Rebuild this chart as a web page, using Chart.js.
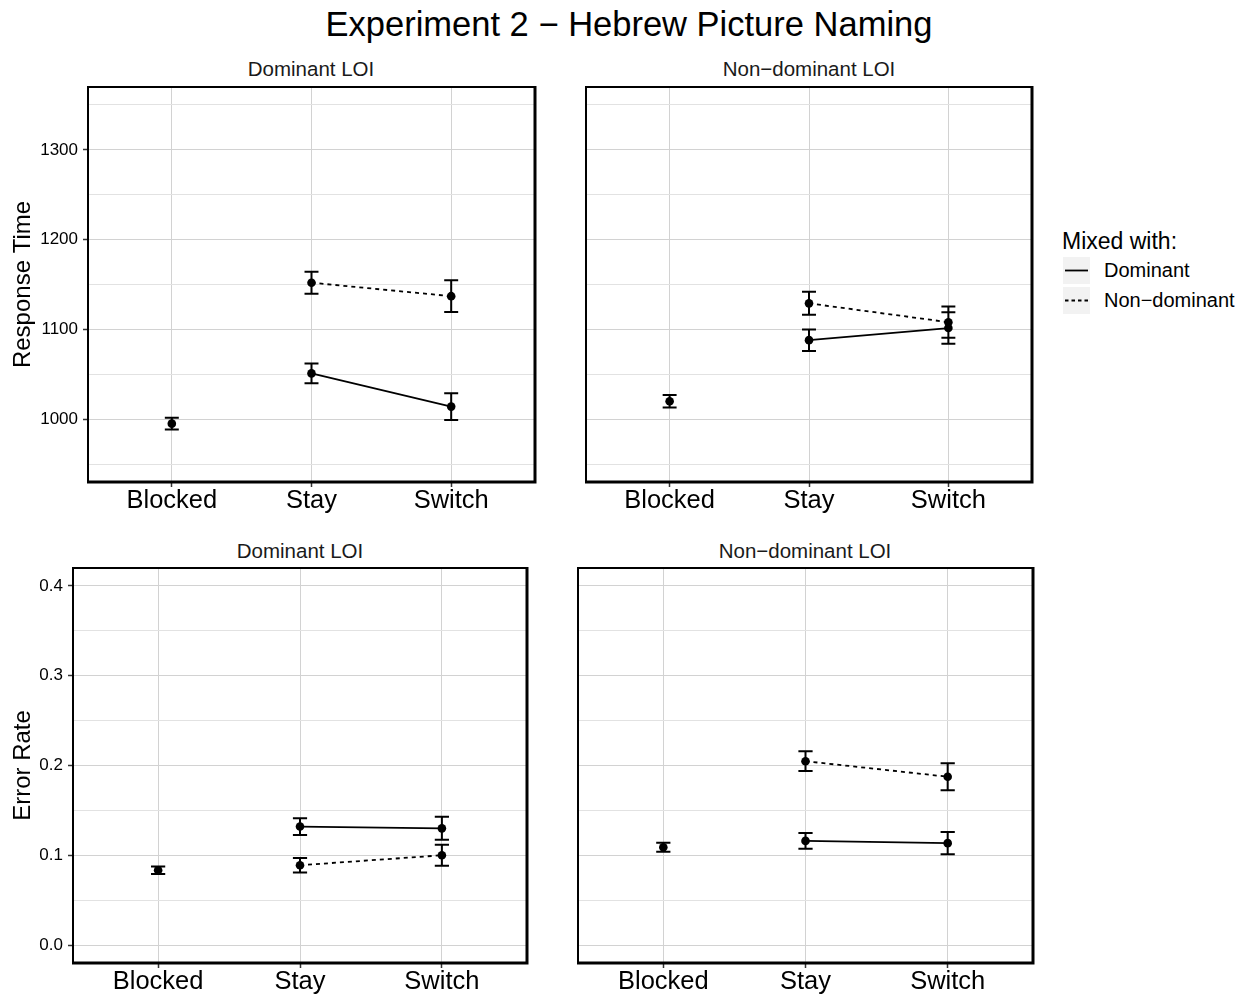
<!DOCTYPE html>
<html><head><meta charset="utf-8">
<script src="https://cdn.jsdelivr.net/npm/chart.js@4/dist/chart.umd.min.js"></script>
<style>
body{margin:0;background:#fff;width:1250px;height:997px;position:relative;overflow:hidden;font-family:"Liberation Sans",Arial,Helvetica,sans-serif;}
canvas{position:absolute;}
.t{position:absolute;white-space:nowrap;color:#000;}
.strip{font-size:20.5px;line-height:20.5px;color:#1a1a1a;text-align:center;width:400px;}
.key{position:absolute;left:1063px;width:27px;height:27px;background:#f2f2f2;}
.lab{position:absolute;left:1104px;font-size:20px;line-height:27px;}
</style></head><body>
<div class="t" style="left:0;width:1258px;text-align:center;top:7px;font-size:34.5px;line-height:34.5px;">Experiment 2 − Hebrew Picture Naming</div>
<div class="t strip" style="left:111px;top:59px;">Dominant LOI</div>
<div class="t strip" style="left:609px;top:59px;">Non−dominant LOI</div>
<div class="t strip" style="left:100px;top:541px;">Dominant LOI</div>
<div class="t strip" style="left:605px;top:541px;">Non−dominant LOI</div>

<div class="t" style="left:1062px;top:230px;font-size:23px;line-height:23px;">Mixed with:</div>
<div class="key" style="top:257px;"><svg width="27" height="27"><line x1="2" y1="13.5" x2="25" y2="13.5" stroke="#000" stroke-width="1.8"/></svg></div>
<div class="key" style="top:287px;"><svg width="27" height="27"><line x1="2" y1="13.5" x2="25" y2="13.5" stroke="#000" stroke-width="1.8" stroke-dasharray="3.5,3"/></svg></div>
<div class="t lab" style="top:257px;">Dominant</div>
<div class="t lab" style="top:287px;">Non−dominant</div>

<canvas id="c1"></canvas><canvas id="c2"></canvas><canvas id="c3"></canvas><canvas id="c4"></canvas>
<script>
// ---------- data ----------
const categories = ['Blocked', 'Stay', 'Switch'];
const mixedCategories = ['Stay', 'Switch'];

const rtGridTicks = [950, 1000, 1050, 1100, 1150, 1200, 1250, 1300, 1350];
const rtLabelTicks = [1000, 1100, 1200, 1300];
const erGridTicks = [0, 0.05, 0.1, 0.15, 0.2, 0.25, 0.3, 0.35, 0.4];
const erLabelTicks = [0, 0.1, 0.2, 0.3, 0.4];

// Response time, Dominant LOI
const rtDomLoiBlocked = [995];
const rtDomLoiBlockedSe = [6.5];
const rtDomLoiMixDom = [1051, 1014];
const rtDomLoiMixDomSe = [11, 15];
const rtDomLoiMixNon = [1152, 1137];
const rtDomLoiMixNonSe = [12.3, 17.6];

// Response time, Non-dominant LOI
const rtNonLoiBlocked = [1020];
const rtNonLoiBlockedSe = [7];
const rtNonLoiMixDom = [1088, 1101.5];
const rtNonLoiMixDomSe = [12, 17.5];
const rtNonLoiMixNon = [1129, 1108];
const rtNonLoiMixNonSe = [12.8, 17.4];

// Error rate, Dominant LOI
const erDomLoiBlocked = [0.0833];
const erDomLoiBlockedSe = [0.0042];
const erDomLoiMixDom = [0.132, 0.130];
const erDomLoiMixDomSe = [0.0093, 0.0128];
const erDomLoiMixNon = [0.0889, 0.100];
const erDomLoiMixNonSe = [0.008, 0.0117];

// Error rate, Non-dominant LOI
const erNonLoiBlocked = [0.109];
const erNonLoiBlockedSe = [0.005];
const erNonLoiMixDom = [0.116, 0.1135];
const erNonLoiMixDomSe = [0.0087, 0.0124];
const erNonLoiMixNon = [0.2048, 0.1875];
const erNonLoiMixNonSe = [0.011, 0.015];

// ---------- drawing ----------
const FONT = '"Liberation Sans", Arial, Helvetica, sans-serif';
Chart.defaults.font.family = FONT;
Chart.defaults.color = '#000';

const posOf = c => categories.indexOf(c) + 1;
const CAP = 0.05;

function errSegments(xs, ys, es) {
  const out = [];
  xs.forEach((x, i) => {
    const hi = ys[i] + es[i], lo = ys[i] - es[i];
    out.push({x: x - CAP, y: hi}, {x: x + CAP, y: hi}, {x: x, y: null},
             {x: x, y: hi}, {x: x, y: lo}, {x: x, y: null},
             {x: x - CAP, y: lo}, {x: x + CAP, y: lo}, {x: x, y: null});
  });
  return out;
}

const framePlugin = {
  id: 'frame',
  afterDraw(chart) {
    const {ctx, chartArea: a} = chart;
    ctx.save();
    ctx.strokeStyle = '#000';
    ctx.lineWidth = 2;
    ctx.strokeRect(a.left, a.top, a.right - a.left, a.bottom - a.top);
    ctx.lineWidth = 3;
    ctx.beginPath();
    ctx.moveTo(a.left - 1, a.bottom); ctx.lineTo(a.right + 1.5, a.bottom);
    ctx.moveTo(a.right, a.top - 1); ctx.lineTo(a.right, a.bottom);
    ctx.stroke();
    ctx.restore();
  }
};

const panels = [
  {id: 'c1', area: {l: 88, r: 535, t: 87, b: 482}, yLabels: true, yTitle: 'Response Time',
   yMin: 930, yMax: 1370, grid: rtGridTicks, labels: rtLabelTicks, fmt: v => String(v),
   blocked: rtDomLoiBlocked, blockedSe: rtDomLoiBlockedSe, dom: rtDomLoiMixDom, domSe: rtDomLoiMixDomSe,
   non: rtDomLoiMixNon, nonSe: rtDomLoiMixNonSe},
  {id: 'c2', area: {l: 586, r: 1032, t: 87, b: 482}, yLabels: false, yTitle: '',
   yMin: 930, yMax: 1370, grid: rtGridTicks, labels: rtLabelTicks, fmt: v => String(v),
   blocked: rtNonLoiBlocked, blockedSe: rtNonLoiBlockedSe, dom: rtNonLoiMixDom, domSe: rtNonLoiMixDomSe,
   non: rtNonLoiMixNon, nonSe: rtNonLoiMixNonSe},
  {id: 'c3', area: {l: 73, r: 527, t: 568, b: 963}, yLabels: true, yTitle: 'Error Rate',
   yMin: -0.02, yMax: 0.42, grid: erGridTicks, labels: erLabelTicks, fmt: v => v.toFixed(1),
   blocked: erDomLoiBlocked, blockedSe: erDomLoiBlockedSe, dom: erDomLoiMixDom, domSe: erDomLoiMixDomSe,
   non: erDomLoiMixNon, nonSe: erDomLoiMixNonSe},
  {id: 'c4', area: {l: 578, r: 1033, t: 568, b: 963}, yLabels: false, yTitle: '',
   yMin: -0.02, yMax: 0.42, grid: erGridTicks, labels: erLabelTicks, fmt: v => v.toFixed(1),
   blocked: erNonLoiBlocked, blockedSe: erNonLoiBlockedSe, dom: erNonLoiMixDom, domSe: erNonLoiMixDomSe,
   non: erNonLoiMixNon, nonSe: erNonLoiMixNonSe}
];

function makePanel(p) {
  const cv = document.getElementById(p.id);
  const cl = p.yLabels ? 0 : p.area.l - 10;
  const ct = p.area.t - 24;
  const cr = p.area.r + 8;
  const xAxisH = 45;
  const cb = p.area.b + xAxisH;
  cv.style.left = cl + 'px';
  cv.style.top = ct + 'px';
  cv.width = cr - cl;
  cv.height = cb - ct;
  const yAxisW = p.area.l - cl;
  const isMajor = v => p.labels.some(m => Math.abs(m - v) < 1e-9);

  const blockedX = p.blocked.map(() => posOf('Blocked'));
  const mixX = mixedCategories.map(posOf);

  new Chart(cv, {
    type: 'line',
    data: {
      datasets: [
        {label: 'Blocked', data: p.blocked.map((v, i) => ({x: blockedX[i], y: v})), showLine: false,
         pointRadius: 4.3, pointBackgroundColor: '#000', pointBorderWidth: 0},
        {label: 'Dominant', data: p.dom.map((v, i) => ({x: mixX[i], y: v})), borderColor: '#000', borderWidth: 1.8,
         pointRadius: 4.3, pointBackgroundColor: '#000', pointBorderWidth: 0},
        {label: 'Non-dominant', data: p.non.map((v, i) => ({x: mixX[i], y: v})), borderColor: '#000', borderWidth: 1.8,
         borderDash: [4, 4], pointRadius: 4.3, pointBackgroundColor: '#000', pointBorderWidth: 0},
        {label: 'err', data: errSegments(blockedX.concat(mixX, mixX), p.blocked.concat(p.dom, p.non),
                                         p.blockedSe.concat(p.domSe, p.nonSe)),
         borderColor: '#000', borderWidth: 2, pointRadius: 0, spanGaps: false}
      ]
    },
    options: {
      responsive: false, animation: false, devicePixelRatio: 1,
      layout: {padding: {left: 0, top: p.area.t - ct, right: cr - p.area.r, bottom: 0}},
      plugins: {legend: {display: false}, tooltip: {enabled: false}},
      elements: {line: {tension: 0}},
      scales: {
        x: {
          type: 'linear', min: 0.4, max: 3.6,
          afterBuildTicks: s => { s.ticks = categories.map((c, i) => ({value: i + 1})); },
          afterFit: s => { s.height = xAxisH; },
          ticks: {callback: v => categories[v - 1], font: {size: 25.5}, color: '#000', padding: -1, maxRotation: 0, autoSkip: false},
          grid: {color: '#d2d2d2', lineWidth: 1, tickLength: 5, tickColor: '#333', tickWidth: 1.5},
          border: {display: false}
        },
        y: {
          type: 'linear', min: p.yMin, max: p.yMax,
          afterBuildTicks: s => { s.ticks = p.grid.map(v => ({value: v})); },
          afterFit: s => { s.width = yAxisW; },
          ticks: {display: p.yLabels, callback: v => isMajor(v) ? p.fmt(v) : '', font: {size: 17}, color: '#000', padding: 5},
          grid: {
            color: ctx => (ctx.tick && isMajor(ctx.tick.value)) ? '#d2d2d2' : '#e2e2e2',
            lineWidth: 1,
            drawTicks: p.yLabels, tickLength: 5, tickWidth: 1.5,
            tickColor: ctx => (ctx.tick && isMajor(ctx.tick.value)) ? '#333' : 'rgba(0,0,0,0)'
          },
          border: {display: false},
          title: {display: p.yLabels, text: p.yTitle, font: {size: 24}, color: '#000', padding: {top: 9, bottom: 0}}
        }
      }
    },
    plugins: [framePlugin]
  });
}
panels.forEach(makePanel);
</script>
</body></html>
